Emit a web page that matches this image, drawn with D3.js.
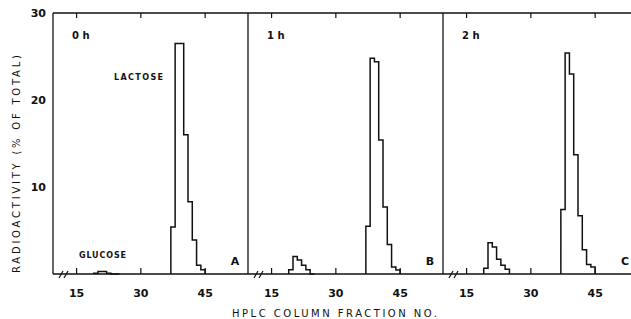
<!DOCTYPE html>
<html>
<head>
<meta charset="utf-8">
<script src="https://cdn.jsdelivr.net/npm/d3@7"></script>
<style>
  body { margin: 0; background: #fff; }
  text { font-family: "DejaVu Sans", sans-serif; fill: #111; }
</style>
</head>
<body>
<div id="chart"></div>
<script>
// dati (radioattivita % del totale per frazione HPLC)
const panelLetters = ['A', 'B', 'C'];
const timeLabels = ['0 h', '1 h', '2 h'];
const xTicks = [15, 30, 45];
const yTicks = [10, 20, 30];

const glucoseFractions = [19, 20, 21, 22, 23, 24];
const glucoseA = [0.1, 0.3, 0.3, 0.1, 0, 0];
const glucoseB = [0.5, 2.0, 1.6, 1.0, 0.5, 0];
const glucoseC = [0.65, 3.6, 3.1, 1.7, 1.0, 0.55];

const lactoseFractions = [37, 38, 39, 40, 41, 42, 43, 44];
const lactoseA = [5.4, 26.5, 26.5, 16.0, 8.3, 3.9, 1.0, 0.5];
const lactoseB = [5.5, 24.8, 24.4, 15.4, 7.7, 3.4, 0.8, 0.45];
const lactoseC = [7.4, 25.4, 23.0, 13.7, 6.7, 2.8, 1.1, 0.8];

const glucoseSeries = [glucoseA, glucoseB, glucoseC];
const lactoseSeries = [lactoseA, lactoseB, lactoseC];

const W = 631, H = 319;
const topY = 13, baseY = 274, leftX = 53, panelW = 195;

const svg = d3.select('#chart').append('svg')
    .attr('width', W).attr('height', H);

const y = d3.scaleLinear().domain([0, 30]).range([baseY, topY]);

// istogramma a gradini
function stepPoints(fracs, vals) {
    const pts = [{ f: fracs[0], v: 0 }];
    fracs.forEach((f, i) => pts.push({ f: f, v: vals[i] }));
    pts.push({ f: fracs[fracs.length - 1] + 1, v: 0 });
    return pts;
}

panelLetters.forEach((letter, p) => {
    const x0 = leftX + p * panelW;
    const x = d3.scaleLinear().domain([9.5, 55]).range([x0, x0 + panelW]);
    const g = svg.append('g');

    const line = d3.line()
        .x(d => x(d.f))
        .y(d => y(d.v))
        .curve(d3.curveStepAfter);

    // bordo sinistro del pannello
    g.append('line')
        .attr('x1', x0).attr('x2', x0)
        .attr('y1', topY).attr('y2', baseY)
        .attr('stroke', '#111').attr('stroke-width', 1.3);

    // linea superiore e linea di base
    const xEnd = Math.min(x0 + panelW, W);
    g.append('line')
        .attr('x1', x0).attr('x2', xEnd)
        .attr('y1', topY).attr('y2', topY)
        .attr('stroke', '#111').attr('stroke-width', 1.3);
    g.append('line')
        .attr('x1', x0).attr('x2', xEnd)
        .attr('y1', baseY).attr('y2', baseY)
        .attr('stroke', '#111').attr('stroke-width', 1.3);

    // tacche in alto e in basso
    xTicks.forEach(t => {
        g.append('line')
            .attr('x1', x(t)).attr('x2', x(t))
            .attr('y1', topY).attr('y2', topY + 5)
            .attr('stroke', '#111').attr('stroke-width', 1.2);
        g.append('line')
            .attr('x1', x(t)).attr('x2', x(t))
            .attr('y1', baseY).attr('y2', baseY - 6)
            .attr('stroke', '#111').attr('stroke-width', 1.2);
        g.append('text')
            .attr('x', x(t)).attr('y', 297)
            .attr('text-anchor', 'middle')
            .style('font-size', '11px').style('font-weight', 'bold')
            .text(t);
    });

    // segno di interruzione dell'asse
    [0, 5].forEach(dx => {
        g.append('line')
            .attr('x1', x0 + 6 + dx).attr('x2', x0 + 10 + dx)
            .attr('y1', baseY + 4).attr('y2', baseY - 3)
            .attr('stroke', '#111').attr('stroke-width', 1.2);
    });

    g.append('path')
        .attr('d', line(stepPoints(glucoseFractions, glucoseSeries[p])))
        .attr('fill', 'none').attr('stroke', '#111').attr('stroke-width', 1.5);
    g.append('path')
        .attr('d', line(stepPoints(lactoseFractions, lactoseSeries[p])))
        .attr('fill', 'none').attr('stroke', '#111').attr('stroke-width', 1.5);

    // etichette
    g.append('text')
        .attr('x', x0 + 19).attr('y', 39)
        .style('font-size', '10px').style('font-weight', 'bold')
        .attr('xml:space', 'preserve')
        .text(timeLabels[p]);
    g.append('text')
        .attr('x', Math.min(x0 + panelW - 13, W - 4)).attr('y', 265)
        .attr('text-anchor', 'middle')
        .style('font-size', '11px').style('font-weight', 'bold')
        .text(letter);
});

// etichette zuccheri nel pannello A
svg.append('text')
    .attr('x', 114).attr('y', 80)
    .attr('textLength', 49).attr('lengthAdjust', 'spacing')
    .style('font-size', '8px').style('font-weight', 'bold')
    .text('LACTOSE');
svg.append('text')
    .attr('x', 79).attr('y', 258)
    .attr('textLength', 47).attr('lengthAdjust', 'spacing')
    .style('font-size', '8px').style('font-weight', 'bold')
    .text('GLUCOSE');

// etichette asse y (senza tacche, come nell'originale)
yTicks.forEach(t => {
    svg.append('text')
        .attr('x', 46).attr('y', y(t) + 4)
        .attr('text-anchor', 'end')
        .style('font-size', '11px').style('font-weight', 'bold')
        .text(t);
});

// titoli degli assi
svg.append('text')
    .attr('x', 232).attr('y', 317)
    .attr('textLength', 205).attr('lengthAdjust', 'spacing')
    .style('font-size', '10px')
    .text('HPLC COLUMN FRACTION NO.');

svg.append('text')
    .attr('transform', 'translate(20,273) rotate(-90)')
    .attr('textLength', 218).attr('lengthAdjust', 'spacing')
    .style('font-size', '10px')
    .text('RADIOACTIVITY (% OF TOTAL)');
</script>
</body>
</html>
